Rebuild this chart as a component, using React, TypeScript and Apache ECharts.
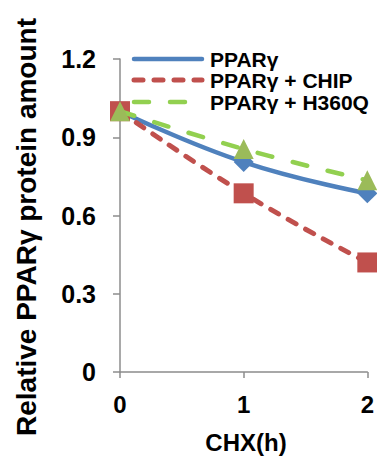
import React, { useEffect, useRef } from "react";
import * as echarts from "echarts";

const categories = ["0", "1", "2"];
const xValues = [0, 1, 2];
const pparg = [1.0, 0.805, 0.685];
const ppargChip = [1.0, 0.685, 0.42];
const ppargH360Q = [1.0, 0.855, 0.735];
const seriesNames = ["PPARγ", "PPARγ + CHIP", "PPARγ + H360Q"];
const yTicks = [0, 0.3, 0.6, 0.9, 1.2];

const FONT = "'Liberation Sans', Arial, sans-serif";

export default function App() {
  const ref = useRef<HTMLDivElement>(null);
  useEffect(() => {
    if (!ref.current) return;
    const chart = echarts.init(ref.current, null, { renderer: "svg" });
    const toPts = (arr: number[]) => arr.map((v, i) => [xValues[i], v]);
    const redDash = [9, 11];
    const greenDash = [15, 21];
    const legendRows = [
      { name: seriesNames[0], color: "#4F81BD", dash: undefined as any, w: 4.5, y: 59 },
      { name: seriesNames[1], color: "#C0504D", dash: redDash, w: 5, y: 80 },
      { name: seriesNames[2], color: "#92D050", dash: greenDash, w: 4.5, y: 102 },
    ];
    const graphics: any[] = [];
    legendRows.forEach((r) => {
      graphics.push({
        type: "line",
        shape: { x1: 134, y1: r.y, x2: 202, y2: r.y },
        style: { stroke: r.color, lineWidth: r.w, lineDash: r.dash, lineCap: "round" },
        z: 10,
      });
      graphics.push({
        type: "text",
        x: 210,
        y: r.y,
        style: {
          text: r.name,
          font: `bold 21px ${FONT}`,
          fill: "#000",
          textVerticalAlign: "middle",
        },
        z: 10,
      });
    });
    graphics.push({
      type: "text",
      x: 26,
      y: 227,
      rotation: Math.PI / 2,
      style: {
        text: "Relative PPARγ protein amount",
        font: `bold 28px ${FONT}`,
        fill: "#000",
        textAlign: "center",
        textVerticalAlign: "middle",
      },
    });
    graphics.push({
      type: "text",
      x: 246,
      y: 442,
      style: {
        text: "CHX(h)",
        font: `bold 24px ${FONT}`,
        fill: "#000",
        textAlign: "center",
        textVerticalAlign: "middle",
      },
    });
    chart.setOption({
      animation: false,
      backgroundColor: "#fff",
      grid: { left: 120, right: 5, top: 59, bottom: 94, containLabel: false },
      xAxis: {
        type: "value",
        min: 0,
        max: 2,
        interval: 1,
        axisLine: { show: true, lineStyle: { color: "#8c8c8c", width: 1.5 } },
        axisTick: { show: true, length: 6, lineStyle: { color: "#8c8c8c", width: 1.5 } },
        axisLabel: {
          fontFamily: FONT,
          fontWeight: "bold",
          fontSize: 24,
          color: "#000",
          margin: 20,
          formatter: (v: number) => categories[v] ?? "",
        },
        splitLine: { show: false },
      },
      yAxis: {
        type: "value",
        min: yTicks[0],
        max: yTicks[yTicks.length - 1],
        interval: 0.3,
        axisLine: { show: true, lineStyle: { color: "#8c8c8c", width: 1.5 } },
        axisTick: { show: true, length: 7, lineStyle: { color: "#8c8c8c", width: 1.5 } },
        axisLabel: {
          fontFamily: FONT,
          fontWeight: "bold",
          fontSize: 25,
          color: "#000",
          margin: 24,
          formatter: (v: number) => (v === 0 ? "0" : v.toFixed(1)),
        },
        splitLine: { show: false },
      },
      graphic: graphics,
      series: [
        {
          name: seriesNames[0],
          type: "line",
          data: toPts(pparg),
          smooth: 0.45,
          symbol: "diamond",
          symbolSize: 20,
          lineStyle: { color: "#4F81BD", width: 4.5, cap: "round" },
          itemStyle: { color: "#4F81BD" },
          z: 1,
        },
        {
          name: seriesNames[1],
          type: "line",
          data: toPts(ppargChip),
          smooth: 0.45,
          symbol: "rect",
          symbolSize: 20,
          lineStyle: { color: "#C0504D", width: 5, type: redDash, cap: "round" },
          itemStyle: { color: "#C0504D" },
          z: 2,
        },
        {
          name: seriesNames[2],
          type: "line",
          data: toPts(ppargH360Q),
          smooth: 0.45,
          symbol: "triangle",
          symbolSize: 20,
          lineStyle: { color: "#92D050", width: 4.5, type: greenDash, cap: "round" },
          itemStyle: { color: "#9BBB59" },
          z: 3,
        },
      ],
    });
    return () => chart.dispose();
  }, []);
  return <div ref={ref} style={{ width: 377, height: 466, position: "absolute", left: 0, top: 0 }} />;
}
